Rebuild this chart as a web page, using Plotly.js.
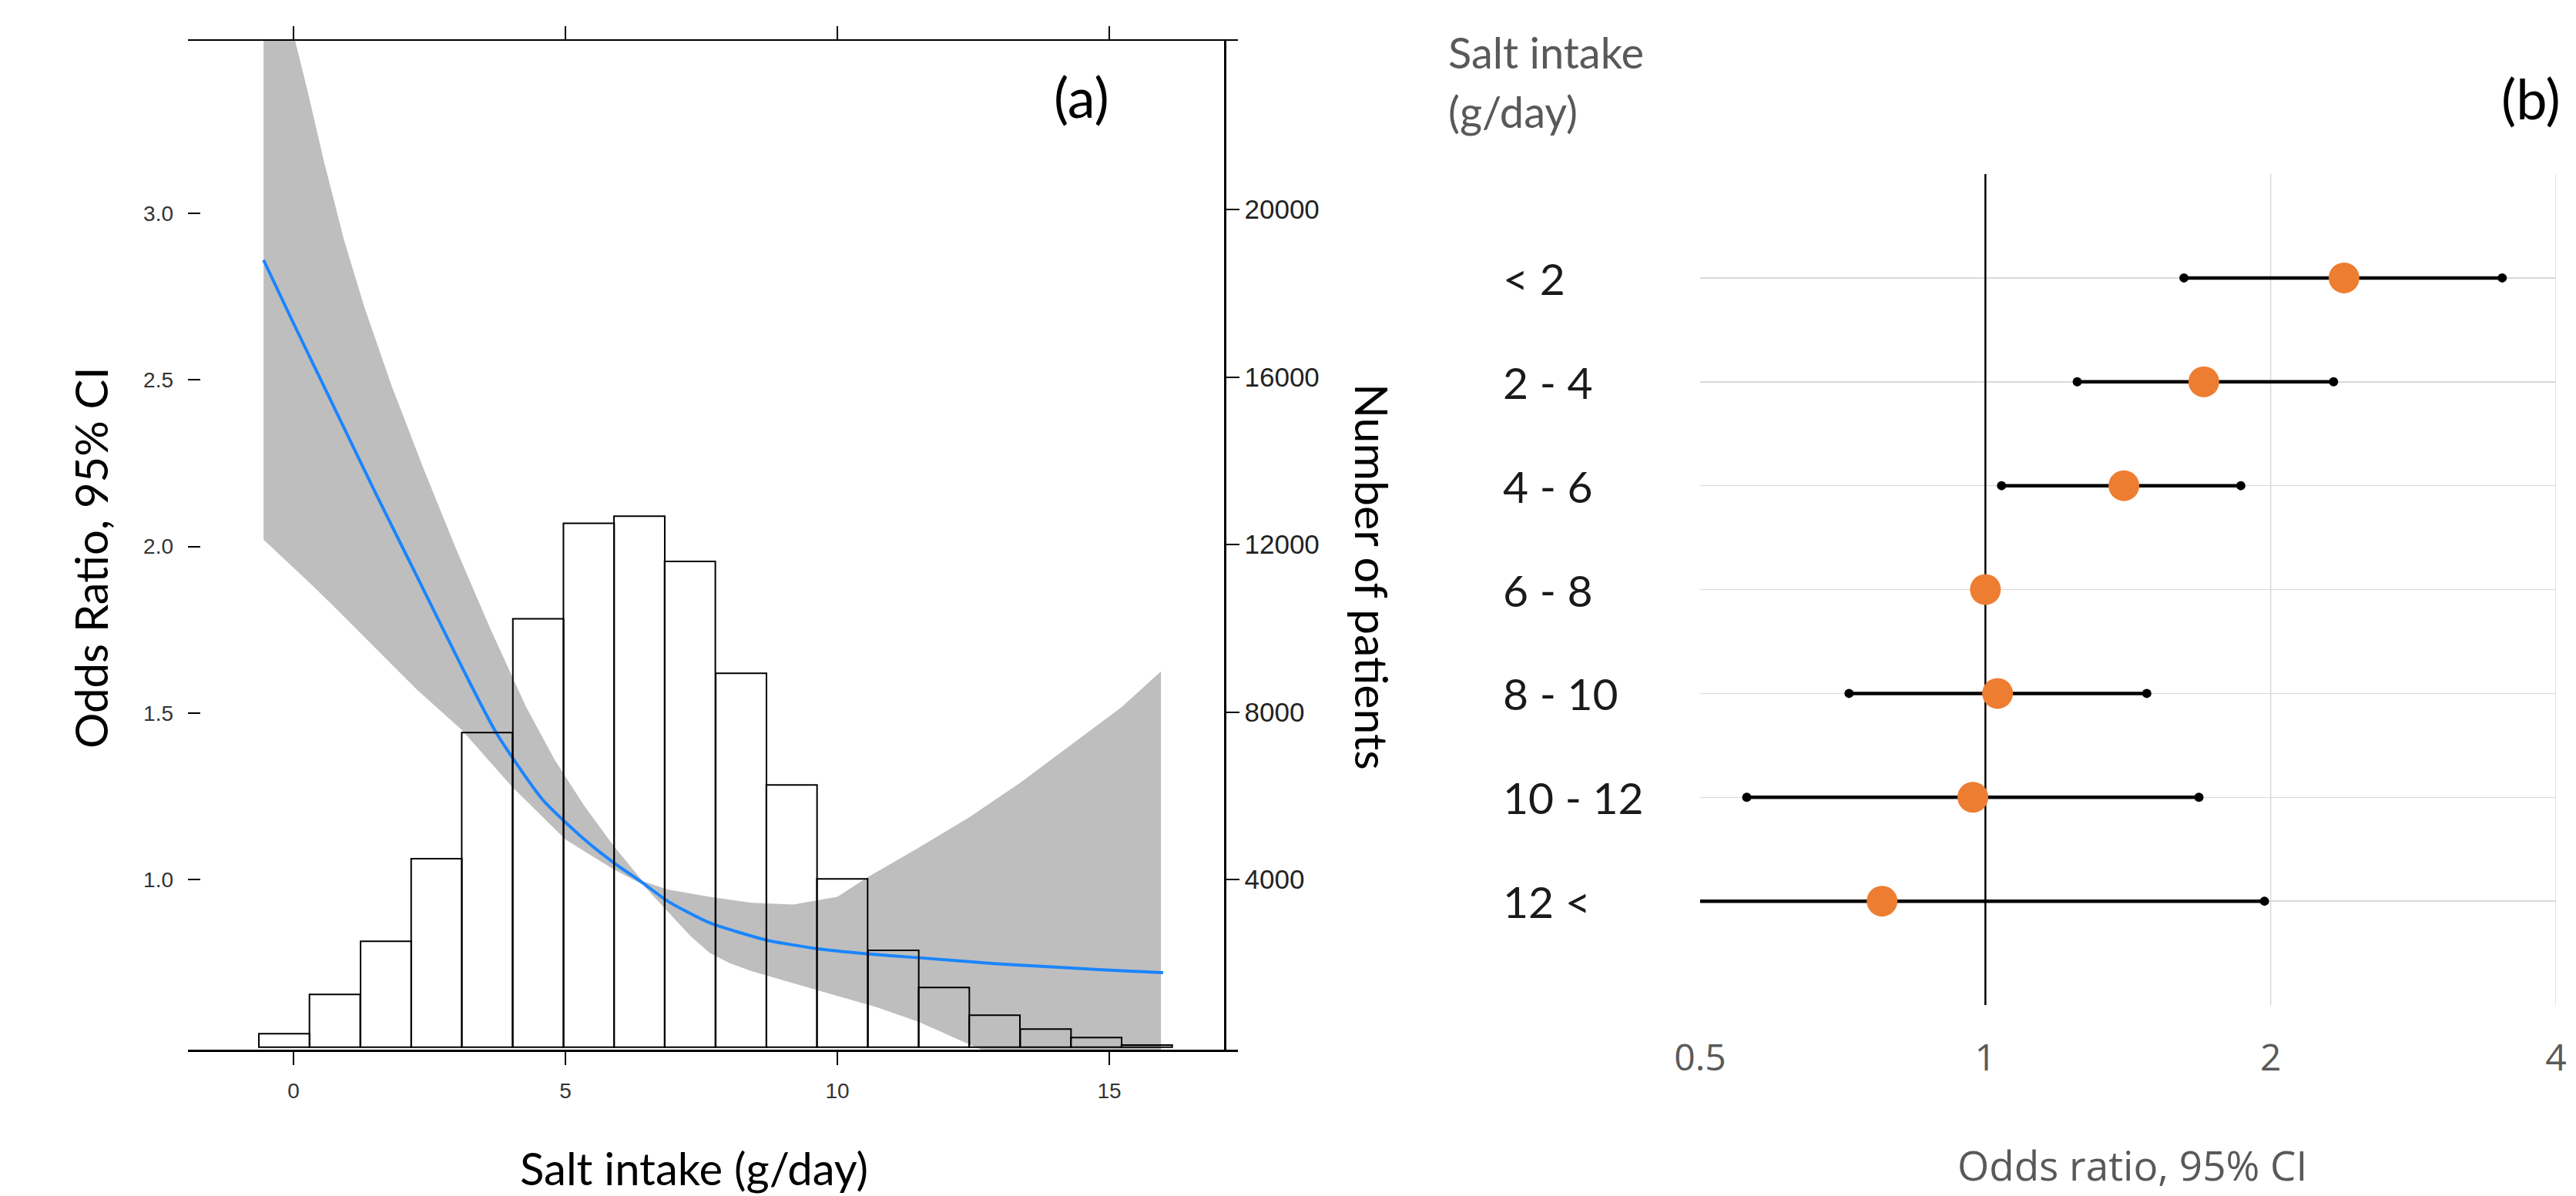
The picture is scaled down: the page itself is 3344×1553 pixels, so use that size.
<!DOCTYPE html>
<html><head><meta charset="utf-8">
<script src="https://cdn.plot.ly/plotly-3.0.1.min.js"></script>
<style>html,body{margin:0;padding:0;background:#fff}#chart{width:3344px;height:1553px}</style>
</head><body><div id="chart"></div>
<script>
// ---------- Panel (a): spline OR curve, 95% CI band, histogram ----------
const curveSalt = [-0.55, 0, 0.74, 1.51, 2.27, 3.09, 3.73, 4.58, 5.35, 5.89, 6.42, 6.88, 7.65, 8.70, 9.64, 10.54, 11.5, 13.0, 14.0, 15.0, 15.99];
const curveOR   = [2.86, 2.67, 2.42, 2.16, 1.91, 1.64, 1.44, 1.24, 1.12, 1.05, 0.99, 0.935, 0.87, 0.818, 0.792, 0.777, 0.765, 0.746, 0.737, 0.728, 0.72];

const upperSalt = [-0.55, 0.03, 0.27, 0.57, 0.93, 1.3, 1.81, 2.4, 2.97, 3.6, 4.27, 4.8, 5.35, 5.89, 6.42, 6.88, 7.65, 8.42, 9.19, 10.0, 10.54, 11.5, 12.43, 13.36, 14.3, 15.23, 15.95];
const upperOR   = [3.9, 3.52, 3.36, 3.15, 2.92, 2.72, 2.48, 2.23, 2.0, 1.76, 1.52, 1.36, 1.22, 1.10, 0.995, 0.97, 0.948, 0.93, 0.925, 0.948, 1.005, 1.096, 1.187, 1.29, 1.404, 1.518, 1.625];
const lowerSalt = [-0.55, 0.27, 0.74, 1.51, 2.27, 3.09, 4.01, 5.0, 5.89, 6.42, 6.88, 7.3, 7.65, 8.0, 8.42, 9.19, 9.96, 10.73, 11.5, 12.42, 13.36, 14.3, 15.23, 15.95];
const lowerOR   = [2.02, 1.895, 1.82, 1.695, 1.57, 1.45, 1.28, 1.12, 1.03, 0.985, 0.905, 0.83, 0.78, 0.75, 0.725, 0.688, 0.652, 0.616, 0.572, 0.505, 0.44, 0.38, 0.32, 0.28];

const histBinCenters = [-0.17, 0.76, 1.70, 2.63, 3.56, 4.50, 5.43, 6.36, 7.29, 8.23, 9.16, 10.09, 11.03, 11.96, 12.89, 13.83, 14.76, 15.69];
const histCounts     = [320, 1260, 2530, 4500, 7510, 10230, 12510, 12680, 11600, 8930, 6260, 4020, 2310, 1425, 763, 432, 230, 50];
const histBinWidth = 0.933;

const saltTicks = [0, 5, 10, 15];
const orTicksA = [1.0, 1.5, 2.0, 2.5, 3.0];
const orTickTextA = ['1.0', '1.5', '2.0', '2.5', '3.0'];
const countTicks = [4000, 8000, 12000, 16000, 20000];
const countTickText = ['4000', '8000', '12000', '16000', '20000'];

// ---------- Panel (b): forest plot ----------
const groups     = ['< 2', '2 - 4', '4 - 6', '6 - 8', '8 - 10', '10 - 12', '12 <'];
const groupOR    = [2.39, 1.70, 1.40, 1.00, 1.03, 0.97, 0.778];
const groupLower = [1.62, 1.25, 1.04, null, 0.718, 0.56, 0.45];
const groupUpper = [3.51, 2.33, 1.86, null, 1.48, 1.68, 1.97];
const orTicksB = [0.5, 1, 2, 4];
const orTickTextB = ['0.5', '1', '2', '4'];
const gridB = [2, 4];
const refOR = 1;
const rowSpan = [0, 8];

// ---------- build ----------
const W = 3344, H = 1553;
const px = v => v / W, py = v => 1 - v / H;
const rows = groups.map((g, i) => i + 1);

const bandX = upperSalt.concat(lowerSalt.slice().reverse());
const bandY = upperOR.concat(lowerOR.slice().reverse());

const ciX = [], ciY = [];
groups.forEach((g, i) => {
  if (groupLower[i] !== null) { ciX.push(groupLower[i], groupUpper[i], null); ciY.push(rows[i], rows[i], null); }
});
const gX = [], gY = [];
gridB.forEach(v => { gX.push(v, v, null); gY.push(rowSpan[0], rowSpan[1], null); });

const traces = [
  {x: bandX, y: bandY, xaxis: 'x', yaxis: 'y', mode: 'lines', fill: 'toself', fillcolor: '#bebebe',
   line: {width: 0, color: '#bebebe'}, hoverinfo: 'skip'},
  {x: curveSalt, y: curveOR, xaxis: 'x', yaxis: 'y', mode: 'lines',
   line: {color: '#1a85ff', width: 4, shape: 'spline', smoothing: 0.6}},
  {type: 'bar', x: histBinCenters, y: histCounts, width: histBinWidth, xaxis: 'x', yaxis: 'y2',
   marker: {color: 'rgba(0,0,0,0)', line: {color: '#000', width: 2}}},
  {x: gX, y: gY, xaxis: 'x2', yaxis: 'y3', mode: 'lines', line: {color: '#d9d9d9', width: 1.5}, hoverinfo: 'skip'},
  {x: [refOR, refOR], y: rowSpan, xaxis: 'x2', yaxis: 'y3', mode: 'lines', line: {color: '#000', width: 2.5}, hoverinfo: 'skip'},
  {x: ciX, y: ciY, xaxis: 'x2', yaxis: 'y3', mode: 'lines+markers', cliponaxis: true,
   line: {color: '#000', width: 4.5}, marker: {color: '#000', size: 12}},
  {x: groupOR, y: rows, xaxis: 'x2', yaxis: 'y3', mode: 'markers', cliponaxis: true,
   marker: {color: '#ed7d31', size: 40}}
];

const calib = 'Lato, "Open Sans", sans-serif';
const annotations = [
  {text: 'Odds Ratio, 95% CI', xref: 'paper', yref: 'paper', x: px(117), y: py(724), textangle: -90,
   showarrow: false, xanchor: 'center', yanchor: 'middle', font: {family: calib, size: 58, color: '#000'}},
  {text: 'Number of patients', xref: 'paper', yref: 'paper', x: px(1782), y: py(749), textangle: 90,
   showarrow: false, xanchor: 'center', yanchor: 'middle', font: {family: calib, size: 59, color: '#000'}},
  {text: 'Salt intake (g/day)', xref: 'paper', yref: 'paper', x: px(901), y: py(1516),
   showarrow: false, xanchor: 'center', yanchor: 'middle', font: {family: calib, size: 58, color: '#000'}},
  {text: '(a)', xref: 'paper', yref: 'paper', x: px(1404), y: py(125),
   showarrow: false, xanchor: 'center', yanchor: 'middle', font: {family: calib, size: 72, color: '#000'}},
  {text: '(b)', xref: 'paper', yref: 'paper', x: px(3285), y: py(127),
   showarrow: false, xanchor: 'center', yanchor: 'middle', font: {family: calib, size: 72, color: '#000'}},
  {text: 'Salt intake', xref: 'paper', yref: 'paper', x: px(1878), y: py(68),
   showarrow: false, xanchor: 'left', yanchor: 'middle', font: {family: calib, size: 56, color: '#595959'}},
  {text: '(g/day)', xref: 'paper', yref: 'paper', x: px(1878), y: py(145),
   showarrow: false, xanchor: 'left', yanchor: 'middle', font: {family: calib, size: 56, color: '#595959'}},
  {text: 'Odds ratio, 95% CI', xref: 'paper', yref: 'paper', x: px(2768), y: py(1512),
   showarrow: false, xanchor: 'center', yanchor: 'middle', font: {family: '"Open Sans", sans-serif', size: 53, color: '#595959'}}
];
groups.forEach((g, i) => annotations.push({
  text: g, xref: 'paper', yref: 'y3', x: px(1949), y: rows[i], showarrow: false,
  xanchor: 'left', yanchor: 'middle', font: {family: calib, size: 57, color: '#1a1a1a'}
}));

const layout = {
  width: W, height: H, margin: {l: 0, r: 0, t: 0, b: 0, pad: 0},
  paper_bgcolor: '#fff', plot_bgcolor: 'rgba(0,0,0,0)', showlegend: false, bargap: 0,
  xaxis: {domain: [px(244), px(1607)], range: [-1.94, 17.365], anchor: 'y',
    tickvals: saltTicks, ticks: 'outside', ticklen: 17, tickwidth: 2, tickcolor: '#000',
    showline: true, linecolor: '#000', linewidth: 2.5, mirror: 'ticks', showgrid: false, zeroline: false,
    tickfont: {family: 'Liberation Sans, Arial, sans-serif', size: 28, color: '#333'}, ticklabelstandoff: 10},
  yaxis: {domain: [py(1363), py(53)], range: [0.489, 3.518], anchor: 'x',
    tickvals: orTicksA, ticktext: orTickTextA, ticks: 'inside', ticklen: 16, tickwidth: 2, tickcolor: '#000',
    showline: false, showgrid: false, zeroline: false, ticklabelstandoff: 18,
    tickfont: {family: 'Liberation Sans, Arial, sans-serif', size: 28, color: '#333'}},
  yaxis2: {overlaying: 'y', anchor: 'free', position: px(1590), side: 'right', range: [-60, 24030],
    tickvals: countTicks, ticktext: countTickText, ticks: 'outside', ticklen: 17, tickwidth: 2, tickcolor: '#000',
    showline: true, linecolor: '#000', linewidth: 2.5, showgrid: false, zeroline: false,
    tickfont: {family: 'Liberation Sans, Arial, sans-serif', size: 35, color: '#222'}},
  xaxis2: {domain: [px(2207), px(3318)], anchor: 'y3', type: 'log', range: [Math.log10(0.5), Math.log10(4)],
    tickvals: orTicksB, ticktext: orTickTextB, ticks: '', showgrid: false, showline: false, zeroline: false,
    ticklabelstandoff: 36, tickfont: {family: '"Open Sans", sans-serif', size: 48, color: '#595959'}},
  yaxis3: {domain: [py(1305), py(226)], anchor: 'x2', range: [rowSpan[1], rowSpan[0]], tickvals: rows, showticklabels: false,
    ticks: '', showgrid: true, gridcolor: '#d9d9d9', gridwidth: 1.5, zeroline: false, showline: false},
  annotations: annotations
};

Plotly.newPlot('chart', traces, layout, {displayModeBar: false, staticPlot: true});
</script></body></html>
